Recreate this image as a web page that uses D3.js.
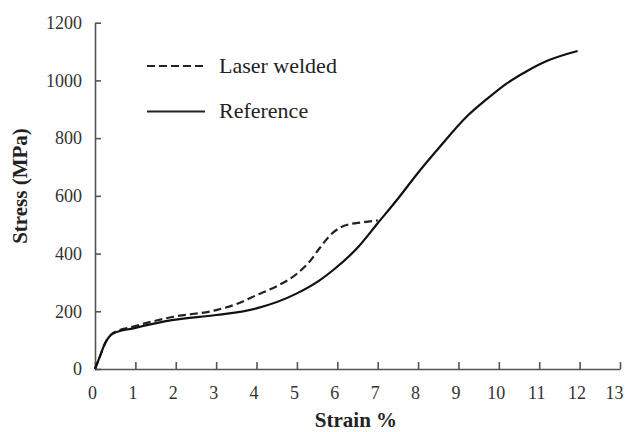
<!DOCTYPE html>
<html>
<head>
<meta charset="utf-8">
<script src="https://cdn.jsdelivr.net/npm/d3@7"></script>
<style>
  html, body { margin: 0; padding: 0; background: #fff; }
  svg { display: block; font-family: "Liberation Serif", "Times New Roman", serif; }
</style>
</head>
<body>
<svg id="chart" width="627" height="432"></svg>
<script>
// Strain (%) / stress (MPa) samples for each specimen
const referenceStrain = [0, 0.12, 0.25, 0.45, 0.95, 1.94, 3.0, 4.0, 5.0, 5.57, 5.9, 6.5, 7.0, 7.5, 8.0, 8.54, 9.2, 9.7, 10.19, 10.69, 11.2, 11.95];
const referenceStress = [0, 43, 89, 123, 141, 170, 187, 210, 262, 308, 343, 420, 505, 590, 680, 770, 874, 935, 989, 1032, 1068, 1102];

const weldedStrain = [0, 0.12, 0.25, 0.45, 0.95, 1.94, 3.0, 3.5, 4.0, 4.5, 5.0, 5.3, 5.57, 5.8, 6.07, 6.31, 6.6, 7.0];
const weldedStress = [0, 43, 89, 125, 147, 181, 204, 225, 256, 287, 330, 370, 420, 460, 490, 502, 508, 515];

const xTicks = [0, 1, 2, 3, 4, 5, 6, 7, 8, 9, 10, 11, 12, 13];
const yTicks = [0, 200, 400, 600, 800, 1000, 1200];

const seriesNames = ["Laser welded", "Reference"];

const svg = d3.select("#chart");
const plotLeft = 95, plotRight = 620, plotTop = 22.7, plotBottom = 369;

const x = d3.scaleLinear().domain([0, 13]).range([plotLeft, plotRight]);
const y = d3.scaleLinear().domain([0, 1200]).range([plotBottom, plotTop]);

const axisColor = "#555";
const fmt = d3.format("d");

// x axis with ticks pointing into the plot
const gx = svg.append("g").attr("transform", `translate(0,${plotBottom})`)
  .call(d3.axisBottom(x).tickValues(xTicks).tickFormat(fmt).tickSize(-7).tickPadding(17).tickSizeOuter(0));
gx.select(".domain").attr("stroke", axisColor).attr("stroke-width", 1.6);
gx.selectAll(".tick line").attr("stroke", axisColor).attr("stroke-width", 1.6);
gx.selectAll(".tick text").attr("font-size", 18).attr("fill", "#333")
  .attr("font-family", "Liberation Serif, serif")
  .attr("dx", d => d === 13 ? -6 : -3);

// y axis with ticks pointing into the plot
const gy = svg.append("g").attr("transform", `translate(${plotLeft},0)`)
  .call(d3.axisLeft(y).tickValues(yTicks).tickFormat(fmt).tickSize(-6).tickPadding(13).tickSizeOuter(0));
gy.select(".domain").attr("stroke", axisColor).attr("stroke-width", 1.6);
gy.selectAll(".tick line").attr("stroke", axisColor).attr("stroke-width", 1.6);
gy.selectAll(".tick text").attr("font-size", 18).attr("fill", "#333")
  .attr("font-family", "Liberation Serif, serif");

// axis titles
svg.append("text")
  .attr("x", 356).attr("y", 427)
  .attr("text-anchor", "middle").attr("font-size", 21).attr("font-weight", "bold").attr("fill", "#222")
  .text("Strain %");
svg.append("text")
  .attr("transform", `translate(27,186) rotate(-90)`)
  .attr("text-anchor", "middle").attr("font-size", 21).attr("font-weight", "bold").attr("fill", "#222")
  .text("Stress (MPa)");

const line = d3.line().x(d => x(d[0])).y(d => y(d[1])).curve(d3.curveMonotoneX);

const refData = d3.zip(referenceStrain, referenceStress);
const weldData = d3.zip(weldedStrain, weldedStress);

svg.append("path").datum(weldData)
  .attr("d", line).attr("fill", "none").attr("stroke", "#222")
  .attr("stroke-width", 2.2).attr("stroke-dasharray", "8,4");

svg.append("path").datum(refData)
  .attr("d", line).attr("fill", "none").attr("stroke", "#111")
  .attr("stroke-width", 2.2);

// legend
const legend = svg.append("g");
const legendRows = [
  { name: seriesNames[0], dash: "8,4", y: 66 },
  { name: seriesNames[1], dash: null, y: 111.5 }
];
legendRows.forEach(r => {
  legend.append("line")
    .attr("x1", 147).attr("x2", 205).attr("y1", r.y).attr("y2", r.y)
    .attr("stroke", "#222").attr("stroke-width", 2)
    .attr("stroke-dasharray", r.dash);
  legend.append("text")
    .attr("x", 219).attr("y", r.y + 6.5)
    .attr("font-size", 22).attr("fill", "#222")
    .text(r.name);
});
</script>
</body>
</html>
